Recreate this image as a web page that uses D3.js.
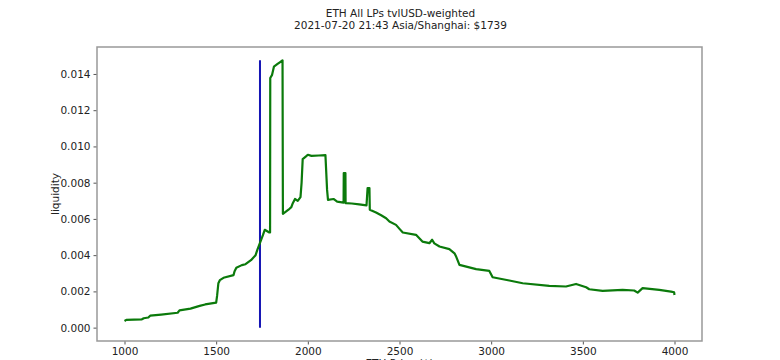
<!DOCTYPE html>
<html>
<head>
<meta charset="utf-8">
<script src="https://cdn.jsdelivr.net/npm/d3@7"></script>
<style>
  body { margin: 0; background: white; }
  text { font-family: "DejaVu Sans", sans-serif; }
</style>
</head>
<body>
<svg id="chart_svg" width="780" height="360"></svg>
<script>
var titleLines = ['ETH All LPs tvlUSD-weighted', '2021-07-20 21:43 Asia/Shanghai: $1739'];
var currentPrice = 1739;

// price ($) and liquidity
var prices = [1000, 1010, 1095, 1105, 1130, 1140, 1200, 1290, 1300, 1360, 1410, 1440, 1500, 1505, 1512,
  1520, 1540, 1595, 1600, 1610, 1640, 1660, 1690, 1715, 1725, 1739, 1755, 1765, 1790, 1794,
  1795, 1805, 1815, 1835, 1855, 1862, 1864, 1880, 1900, 1910, 1918, 1930, 1945, 1960, 1966,
  1972, 1990, 2000, 2020, 2060, 2096, 2105, 2110, 2140, 2160, 2195, 2196, 2205, 2206, 2240,
  2280, 2320, 2326, 2336, 2338, 2372, 2400, 2427, 2445, 2481, 2500, 2518, 2590, 2625, 2663,
  2678, 2690, 2718, 2772, 2800, 2809, 2827, 2918, 2990, 3008, 3099, 3172, 3317, 3408, 3463,
  3518, 3535, 3608, 3717, 3780, 3799, 3826, 3917, 3981, 3998, 4000];
var liquidity = [0.00037, 0.00043, 0.00046, 0.00052, 0.00056, 0.00066, 0.00072, 0.00082, 0.00095, 0.00105, 0.00120, 0.00128, 0.00138, 0.00175, 0.00245,
  0.00262, 0.00275, 0.00290, 0.00310, 0.00330, 0.00345, 0.00350, 0.00372, 0.00400, 0.00430, 0.00468, 0.00510, 0.00540, 0.00525, 0.00525,
  0.01378, 0.01395, 0.01440, 0.01455, 0.01470, 0.01475, 0.00628, 0.00640, 0.00656, 0.00665, 0.00687, 0.00710, 0.00700, 0.00720, 0.00800,
  0.00930, 0.00945, 0.00954, 0.00948, 0.00950, 0.00952, 0.00760, 0.00705, 0.00710, 0.00695, 0.00690, 0.00853, 0.00853, 0.00687, 0.00685,
  0.00680, 0.00675, 0.00770, 0.00770, 0.00650, 0.00635, 0.00620, 0.00604, 0.00586, 0.00567, 0.00545, 0.00525, 0.00512, 0.00475, 0.00466,
  0.00485, 0.00465, 0.00448, 0.00433, 0.00410, 0.00392, 0.00346, 0.00323, 0.00313, 0.00278, 0.00260, 0.00245, 0.00230, 0.00227, 0.00241,
  0.00223, 0.00212, 0.00203, 0.00208, 0.00205, 0.00193, 0.00218, 0.00208, 0.00199, 0.00195, 0.00180];

var xTicks = [1000, 1500, 2000, 2500, 3000, 3500, 4000];
var yTicks = [0, 0.002, 0.004, 0.006, 0.008, 0.010, 0.012, 0.014];

var margin = {top: 47, right: 78, bottom: 19, left: 97},
    width = 780 - margin.left - margin.right,
    height = 360 - margin.top - margin.bottom;

var svg = d3.select('#chart_svg');

var data = prices.map(function(p, i){ return {price: p, liq: liquidity[i]}; });

// matplotlib-style 5% margins
var xMin = d3.min(prices), xMax = d3.max(prices);
var yMin = 0, yMax = d3.max(liquidity);
var xPad = (xMax - xMin) * 0.05, yPad = (yMax - yMin) * 0.05;

var x = d3.scaleLinear().domain([xMin - xPad, xMax + xPad]).range([0, width]);
var y = d3.scaleLinear().domain([yMin - yPad, yMax + yPad]).range([height, 0]);

svg.selectAll('.title')
    .data(titleLines)
    .join('text')
    .attr('class', 'title')
    .attr('x', margin.left + width / 2 + 1)
    .attr('y', (d, i) => 16.5 + i * 12.5)
    .attr('text-anchor', 'middle')
    .attr('font-size', 10.5)
    .attr('fill', '#222')
    .text(d => d);

var g = svg.append('g').attr('transform', 'translate(' + margin.left + ',' + margin.top + ')');

var xAxis = g.append('g')
    .attr('transform', 'translate(0,' + height + ')')
    .call(d3.axisBottom(x).tickValues(xTicks).tickFormat(d3.format('d')).tickSizeOuter(0).tickSize(3.5).tickPadding(3));
var yAxis = g.append('g')
    .call(d3.axisLeft(y).tickValues(yTicks).tickFormat(d3.format('.3f')).tickSizeOuter(0).tickSize(3.5).tickPadding(3));

[xAxis, yAxis].forEach(function(ax){
    ax.select('.domain').remove();
    ax.selectAll('line').attr('stroke', '#555');
    ax.selectAll('text').attr('font-size', 10.5).attr('fill', '#222').style('font-family', '"DejaVu Sans", sans-serif');
});

g.append('rect')
    .attr('x', 0)
    .attr('y', 0)
    .attr('width', width)
    .attr('height', height)
    .attr('fill', 'none')
    .attr('stroke', '#999')
    .attr('stroke-width', 1.5);

g.append('line')
    .attr('x1', x(currentPrice))
    .attr('x2', x(currentPrice))
    .attr('y1', y(0))
    .attr('y2', y(yMax))
    .attr('stroke', '#1414b4')
    .attr('stroke-width', 2);

var line = d3.line()
    .x(d => x(d.price))
    .y(d => y(d.liq));

g.append('path')
    .datum(data)
    .attr('d', line)
    .attr('fill', 'none')
    .attr('stroke', '#0b7a0b')
    .attr('stroke-width', 2.2)
    .attr('stroke-linejoin', 'round');

svg.append('text')
    .attr('transform', 'translate(58.5,' + (margin.top + height / 2) + ') rotate(-90)')
    .attr('text-anchor', 'middle')
    .attr('font-size', 10.5)
    .attr('fill', '#222')
    .text('liquidity');

svg.append('text')
    .attr('x', margin.left + width / 2)
    .attr('y', 367)
    .attr('text-anchor', 'middle')
    .attr('font-size', 10.5)
    .attr('fill', '#222')
    .text('ETH Price ($)');
</script>
</body>
</html>
